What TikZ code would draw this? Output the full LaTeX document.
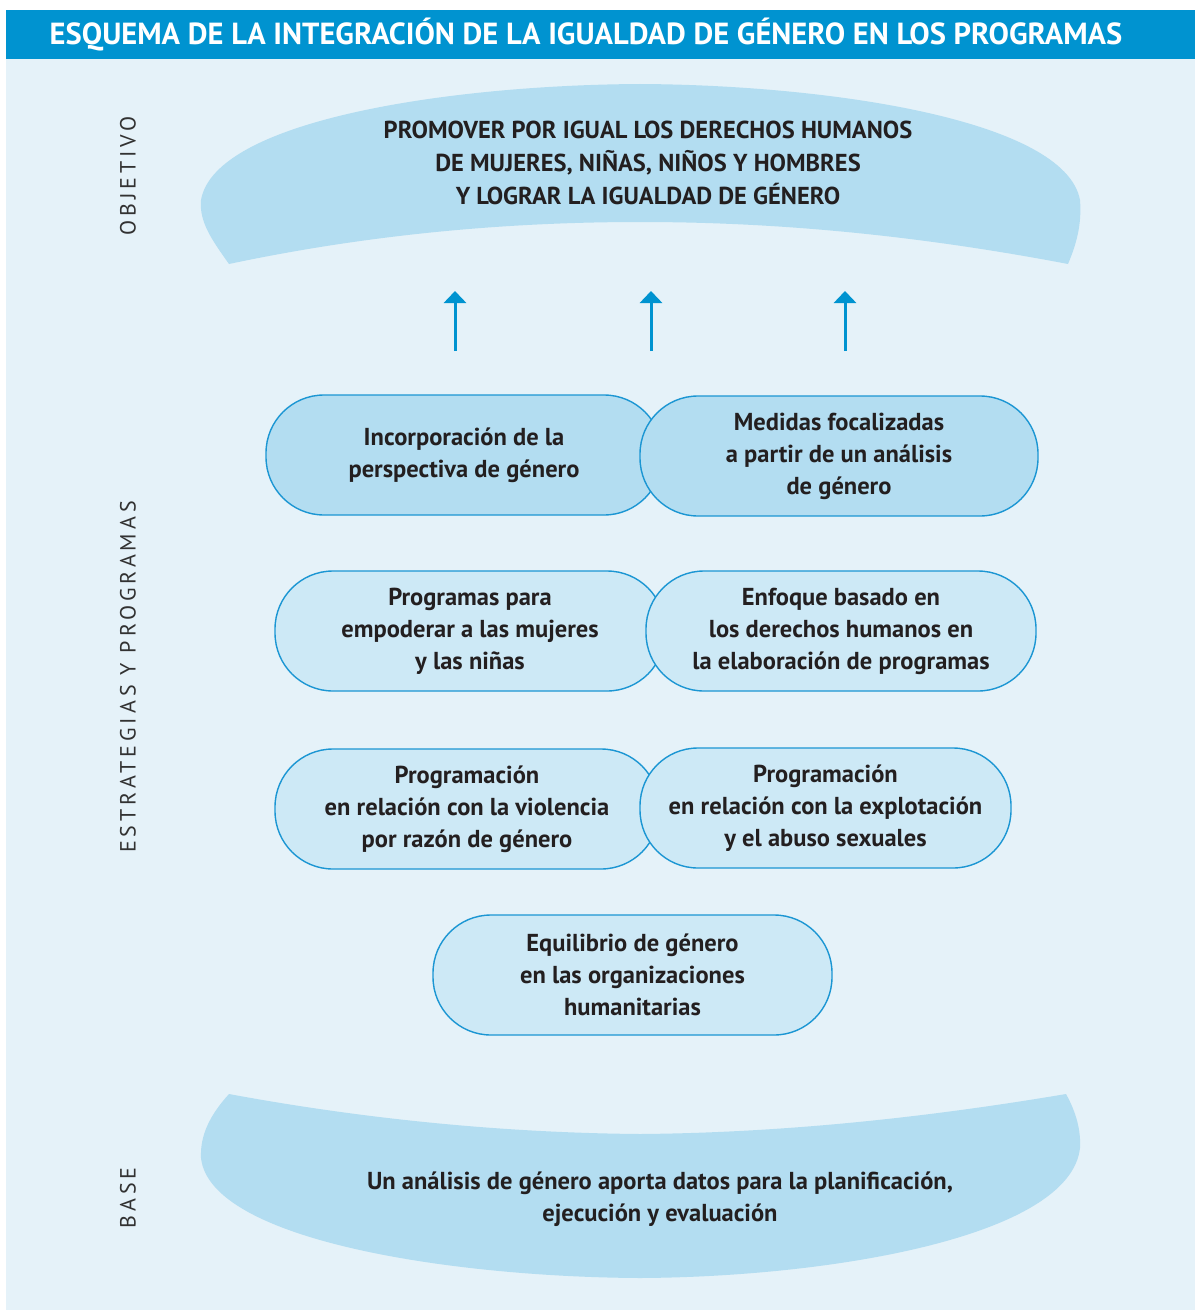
\documentclass[tikz,border=0pt]{standalone}
\usepackage{fontspec}
\setmainfont{PT Sans}
\newfontfamily\spaced[LetterSpace=18]{PT Sans}
\usetikzlibrary{arrows.meta}
\definecolor{barblue}{RGB}{0,147,208}
\definecolor{bgblue}{RGB}{229,242,249}
\definecolor{shapeblue}{RGB}{179,221,241}
\definecolor{pilllight}{RGB}{205,233,246}
\definecolor{edgeblue}{RGB}{27,150,211}
\definecolor{txt}{RGB}{35,31,32}
\definecolor{lbl}{RGB}{50,50,50}
\tikzset{
  pill/.style={draw=edgeblue, line width=1.4pt, rounded corners=58pt, minimum height=120pt, inner sep=0pt,
     text=txt, align=center, font=\bfseries\fontsize{24.5}{32}\selectfont},
  pilldark/.style={pill, fill=shapeblue},
  pilllite/.style={pill, fill=pilllight},
  uparrow/.style={draw=barblue, line width=3pt, -{Triangle[width=22pt,length=12pt]}},
  sidelabel/.style={rotate=90, text=lbl, font=\spaced\fontsize{22}{26}\selectfont, inner sep=0pt},
  bigtext/.style={text=txt, align=center, font=\bfseries\fontsize{24.5}{33}\selectfont, inner sep=0pt}
}
\begin{document}
\begin{tikzpicture}[x=1pt,y=-1pt]
\useasboundingbox (0,0) rectangle (1195,1311);
\fill[white] (0,0) rectangle (1195,1311);
\fill[bgblue] (6,59) rectangle (1195,1310);
\fill[barblue] (6,10) rectangle (1195,59);
\node[text=white, font=\bfseries\fontsize{30.5}{34}\selectfont, inner sep=0pt] (title) at (586,35)
  {ESQUEMA DE LA INTEGRACIÓN DE LA IGUALDAD DE GÉNERO EN LOS PROGRAMAS};

% objective shape
\fill[shapeblue] (229,264) .. controls (212,240) and (199,222) .. (201,200)
  .. controls (215,120) and (450,85) .. (640,84)
  .. controls (830,85) and (1065,120) .. (1080,200)
  .. controls (1082,225) and (1076,245) .. (1068,264)
  .. controls (900,232) and (760,222) .. (640,222)
  .. controls (520,222) and (380,232) .. (229,264) -- cycle;
\node[bigtext] (obj) at (648,163) {PROMOVER POR IGUAL LOS DERECHOS HUMANOS\\DE MUJERES, NIÑAS, NIÑOS Y HOMBRES\\Y LOGRAR LA IGUALDAD DE GÉNERO};

% base shape
\fill[shapeblue] (229,1094) .. controls (380,1122) and (520,1133) .. (640,1134)
  .. controls (760,1133) and (900,1122) .. (1066,1094)
  .. controls (1076,1112) and (1081,1130) .. (1080,1148)
  .. controls (1070,1237) and (830,1277) .. (640,1278)
  .. controls (450,1277) and (210,1240) .. (201,1158)
  .. controls (200,1135) and (210,1115) .. (229,1094) -- cycle;
\node[bigtext, font=\bfseries\fontsize{24.5}{32}\selectfont] (base) at (660,1199) {Un análisis de género aporta datos para la planificación,\\ejecución y evaluación};

% side labels
\node[sidelabel] (lobj) at (128,176) {OBJETIVO};
\node[sidelabel] (lest) at (128,677) {ESTRATEGIAS Y PROGRAMAS};
\node[sidelabel] (lbase) at (128,1198) {BASE};

% arrows
\coordinate (a1s) at (455,351); \coordinate (a1e) at (455,291);
\coordinate (a2s) at (651,351); \coordinate (a2e) at (651,291);
\coordinate (a3s) at (845,351); \coordinate (a3e) at (845,291);
\draw[uparrow] (a1s) -- (a1e);
\draw[uparrow] (a2s) -- (a2e);
\draw[uparrow] (a3s) -- (a3e);

% row 1
\node[pilldark, minimum width=396pt] (r1l) at (464,455) {Incorporación de la\\perspectiva de género};
\node[pilldark, minimum width=398pt] (r1r) at (839,456) {Medidas focalizadas\\a partir de un análisis\\de género};
% row 2
\node[pilllite, minimum width=390pt] (r2l) at (470,631) {Programas para\\empoderar a las mujeres\\y las niñas};
\node[pilllite, minimum width=390pt] (r2r) at (841,631) {Enfoque basado en\\los derechos humanos en\\la elaboración de programas};
% row 3
\node[pilllite, minimum width=384pt] (r3l) at (467,809) {Programación\\en relación con la violencia\\por razón de género};
\node[pilllite, minimum width=371pt] (r3r) at (825.5,808) {Programación\\en relación con la explotación\\y el abuso sexuales};
% row 4
\node[pilllite, minimum width=399pt] (r4) at (632.5,975) {Equilibrio de género\\en las organizaciones\\humanitarias};
\end{tikzpicture}
\end{document}
